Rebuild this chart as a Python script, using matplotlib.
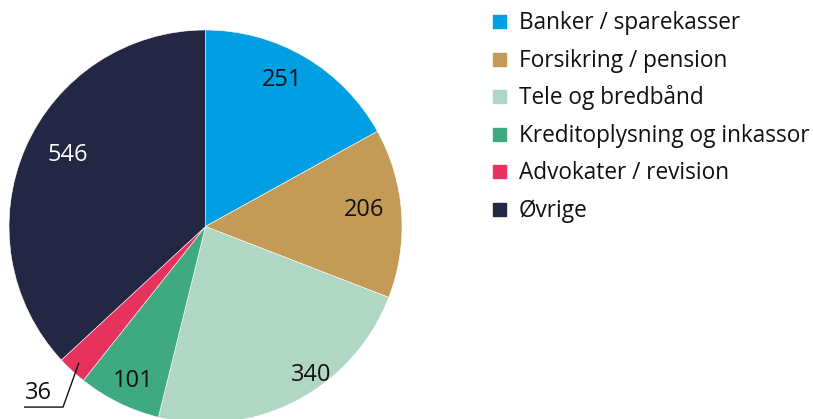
import matplotlib.pyplot as plt
from matplotlib.patches import Rectangle
import numpy as np

categories = ['Banker / sparekasser', 'Forsikring / pension', 'Tele og bredbånd',
              'Kreditoplysning og inkassor', 'Advokater / revision', 'Øvrige']
values = [251, 206, 340, 101, 36, 546]
colors = ['#009fe3', '#c49a57', '#b0d7c3', '#3faa82', '#e8325e', '#232743']
label_colors = ['#111111', '#111111', '#111111', '#111111', '#111111', 'white']
# label placement per slice: radius fraction and angle nudge (deg)
label_r = [0.84, 0.81, 0.93, 0.87, None, 0.79]
label_shift = [3, 2, 8, 1, 0, -4]

plt.rcParams['font.family'] = ['Open Sans', 'DejaVu Sans']

W, H = 813, 419
fig = plt.figure(figsize=(W / 100, H / 100), dpi=100)
ax = fig.add_axes([9 / W, -4 / H, 393 / W, 393 / H])

wedges, _ = ax.pie(values, colors=colors, startangle=90, counterclock=False,
                   wedgeprops=dict(edgecolor='white', linewidth=0.4))
ax.set_xlim(-1, 1)
ax.set_ylim(-1, 1)
ax.set_aspect('equal')
ax.axis('off')

for i, w in enumerate(wedges):
    mid = np.deg2rad((w.theta1 + w.theta2) / 2)
    if label_r[i] is None:
        # small slice -> leader line out to the lower left
        x0, y0 = 0.95 * np.cos(mid), 0.95 * np.sin(mid)
        ax.plot([x0, -0.725, -0.92], [y0, -0.919, -0.919], color='#111111',
                lw=1, clip_on=False)
        ax.text(-0.852, -0.845, str(values[i]), ha='center', va='center',
                fontsize=17, color='#111111')
        continue
    a = mid + np.deg2rad(label_shift[i])
    ax.text(label_r[i] * np.cos(a), label_r[i] * np.sin(a), str(values[i]),
            ha='center', va='center', fontsize=17, color=label_colors[i])

# legend drawn by hand so rows are evenly spaced
row0, step = 21.5, 37.6
for i, (cat, col) in enumerate(zip(categories, colors)):
    yc = row0 + i * step
    fig.patches.append(Rectangle((493 / W, 1 - (yc + 6.5) / H), 13 / W, 13 / H,
                                 transform=fig.transFigure, color=col))
    fig.text(519 / W, 1 - (yc + 7.5) / H, cat, ha='left', va='baseline',
             fontsize=16.3, color='#111111')

plt.savefig('out.png', dpi=100)
